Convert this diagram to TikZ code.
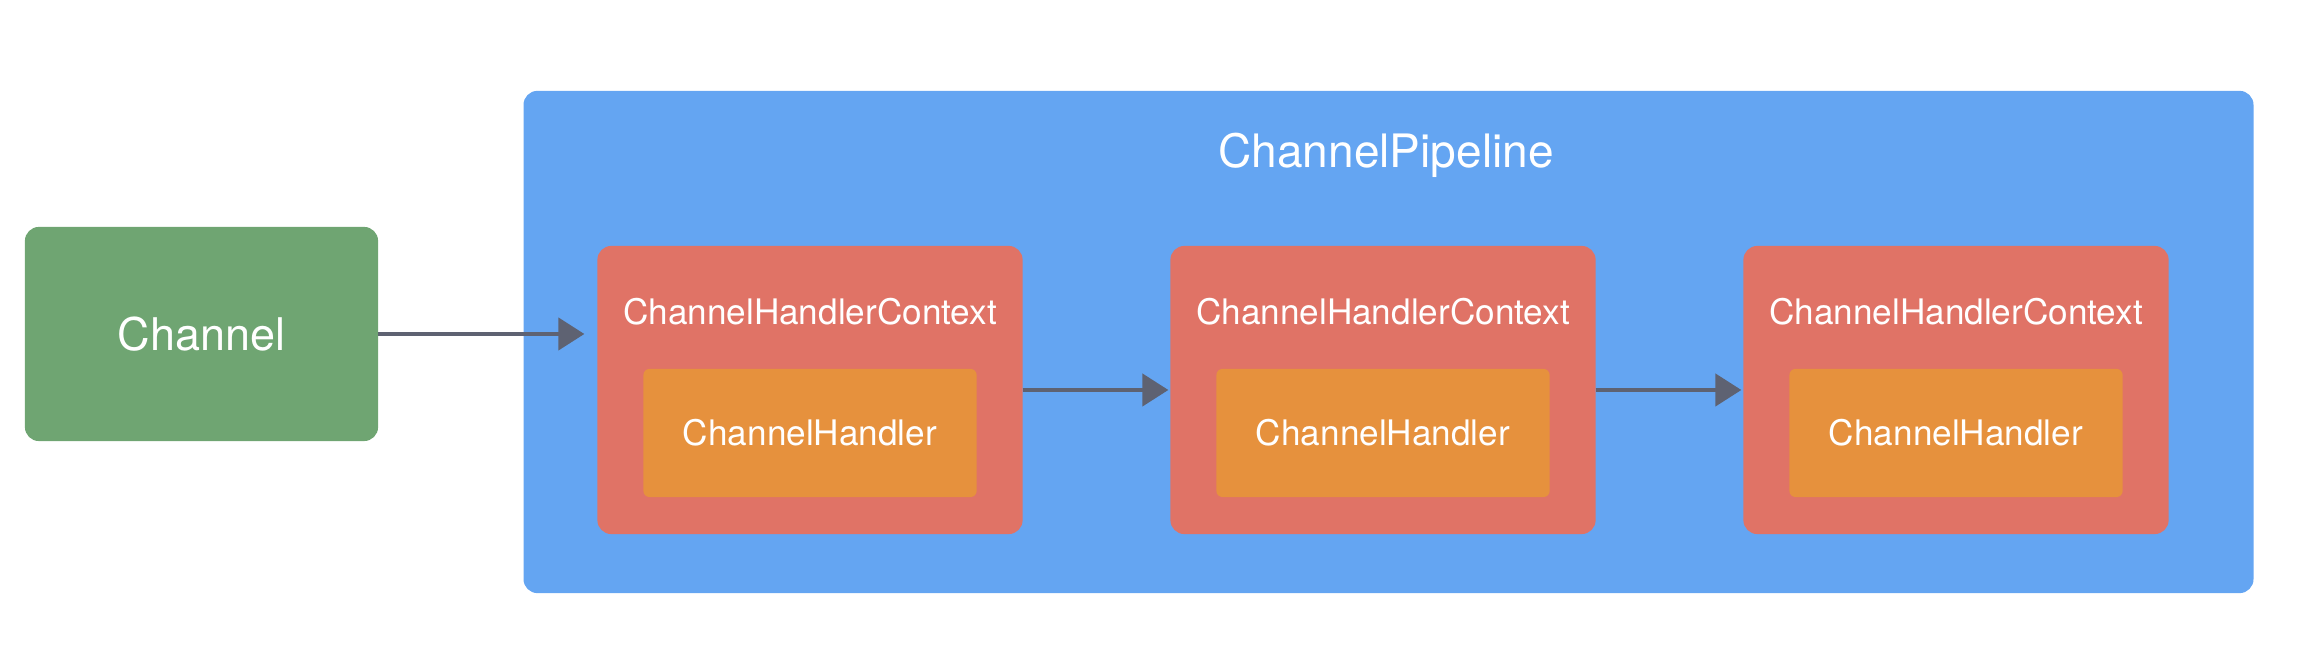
\documentclass[tikz,border=0pt]{standalone}
\usepackage{fontspec}
\setmainfont{TeX Gyre Heros}
\usetikzlibrary{arrows.meta}
\definecolor{chgreen}{HTML}{6FA572}
\definecolor{pipeblue}{HTML}{64A5F2}
\definecolor{ctxred}{HTML}{E07366}
\definecolor{hdlorange}{HTML}{E6913D}
\definecolor{arrowgray}{HTML}{5E6272}
\tikzset{
  px/.style={x=0.01cm,y=-0.01cm},
  box/.style={rectangle,inner sep=0pt,outer sep=0pt},
  chanbox/.style={box,fill=chgreen,rounded corners=0.14cm,minimum width=3.53cm,minimum height=2.14cm,text=white,font=\fontsize{12.8}{15}\selectfont},
  pipebox/.style={box,fill=pipeblue,rounded corners=0.14cm,minimum width=17.29cm,minimum height=5.02cm},
  ctxbox/.style={box,fill=ctxred,rounded corners=0.14cm,minimum width=4.25cm,minimum height=2.88cm},
  hdlbox/.style={box,fill=hdlorange,rounded corners=0.06cm,minimum width=3.33cm,minimum height=1.28cm,text=white,font=\fontsize{10}{12}\selectfont},
  ctxlabel/.style={text=white,inner sep=0pt,font=\fontsize{10}{12}\selectfont},
  titlelabel/.style={text=white,inner sep=0pt,font=\fontsize{13.1}{15}\selectfont},
  flow/.style={draw=arrowgray,line width=1.2pt,-{Triangle[length=0.26cm,width=0.32cm]}}
}
\begin{document}
\begin{tikzpicture}[px]
\useasboundingbox (0,0) rectangle (2300,665);
\node[chanbox] (chan) at (201.5,334) {Channel};
\node[pipebox] (pipe) at (1388.5,342) {};
\node[titlelabel] (title) at (1386,155) {ChannelPipeline};
\foreach \i/\cx in {1/810,2/1383,3/1956}{
  \node[ctxbox] (ctx\i) at (\cx,390) {};
  \node[ctxlabel] (ctxl\i) at (\cx,312) {ChannelHandlerContext};
  \node[hdlbox] (hdl\i) at (\cx,433) {ChannelHandler};
}
\draw[flow,shorten >=0.13cm] (chan.east) -- (ctx1.west |- chan.east);
\draw[flow,shorten >=0.02cm] (ctx1.east) -- (ctx2.west);
\draw[flow,shorten >=0.02cm] (ctx2.east) -- (ctx3.west);
\end{tikzpicture}
\end{document}
